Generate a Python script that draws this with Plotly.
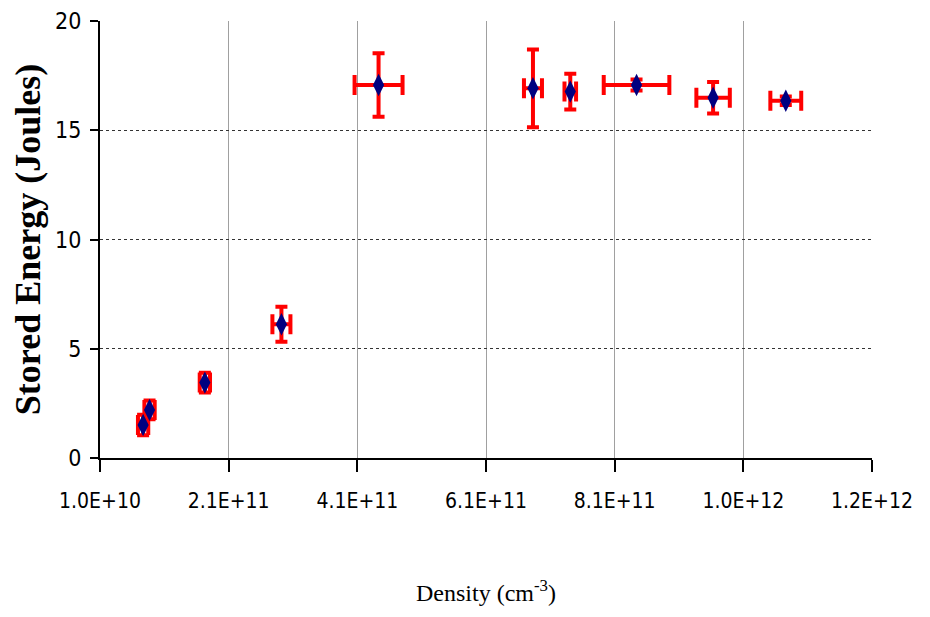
import plotly.graph_objects as go

# Data
density = [0.77e11, 0.87e11, 1.73e11, 2.92e11, 4.43e11, 6.83e11, 7.41e11, 8.44e11, 9.63e11, 10.76e11]
energy = [1.51, 2.20, 3.45, 6.12, 17.07, 16.92, 16.77, 17.07, 16.49, 16.35]
energy_err = [0.47, 0.43, 0.45, 0.8, 1.45, 1.78, 0.82, 0.25, 0.72, 0.2]
density_err = [0.8e10, 0.8e10, 0.8e10, 1.4e10, 3.73e10, 1.4e10, 0.9e10, 5.1e10, 2.6e10, 2.4e10]

x_tickvals = [1.0e10, 2.1e11, 4.1e11, 6.1e11, 8.1e11, 1.01e12, 1.21e12]
x_ticktext = ["1.0E+10", "2.1E+11", "4.1E+11", "6.1E+11", "8.1E+11", "1.0E+12", "1.2E+12"]
y_tickvals = [0, 5, 10, 15, 20]

narrow = "DejaVu Sans Condensed, Liberation Sans Narrow, Arial Narrow, Liberation Sans, Arial"
tick_font_x = dict(family=narrow, size=21, color="black")
tick_font_y = dict(family=narrow, size=23, color="black")

fig = go.Figure()

# error bars (red)
fig.add_trace(go.Scatter(
    x=density, y=energy, mode="markers",
    marker=dict(size=1, opacity=0),
    error_y=dict(type="data", array=energy_err, visible=True, color="#ff0000", thickness=4, width=6),
    error_x=dict(type="data", array=density_err, visible=True, color="#ff0000", thickness=4, width=10),
    showlegend=False, hoverinfo="skip",
))
# markers (navy diamonds)
fig.add_trace(go.Scatter(
    x=density, y=energy, mode="markers",
    marker=dict(symbol="diamond-tall", size=16, color="#000080", line=dict(width=0)),
    showlegend=False,
))

fig.update_layout(
    width=930, height=617,
    margin=dict(l=92, r=66, t=13, b=167, autoexpand=False),
    paper_bgcolor="white", plot_bgcolor="white",
    xaxis=dict(
        range=[1.0e10, 1.21e12], tickvals=x_tickvals, ticktext=x_ticktext,
        showgrid=True, gridcolor="#a0a0a0", gridwidth=1,
        showline=True, linecolor="black", linewidth=2,
        ticks="outside", ticklen=12, tickwidth=2, tickcolor="black",
        tickfont=tick_font_x, ticklabelstandoff=11, zeroline=False, automargin=False,
        title=dict(text="Density (cm<sup>-3</sup>)",
                   font=dict(family="Liberation Serif, Times New Roman, serif", size=24, color="black"),
                   standoff=72),
    ),
    yaxis=dict(
        range=[0, 20], tickvals=y_tickvals,
        showgrid=True, gridcolor="#333333", gridwidth=1, griddash="dot",
        showline=True, linecolor="black", linewidth=2,
        ticks="outside", ticklen=8, tickwidth=2, tickcolor="black",
        tickfont=tick_font_y, ticklabelstandoff=4, zeroline=False, automargin=False,
        title=dict(text="<b>Stored Energy (Joules)</b>",
                   font=dict(family="Liberation Serif, Times New Roman, serif", size=36, color="black"),
                   standoff=14),
    ),
)

fig.write_html("out.html")
